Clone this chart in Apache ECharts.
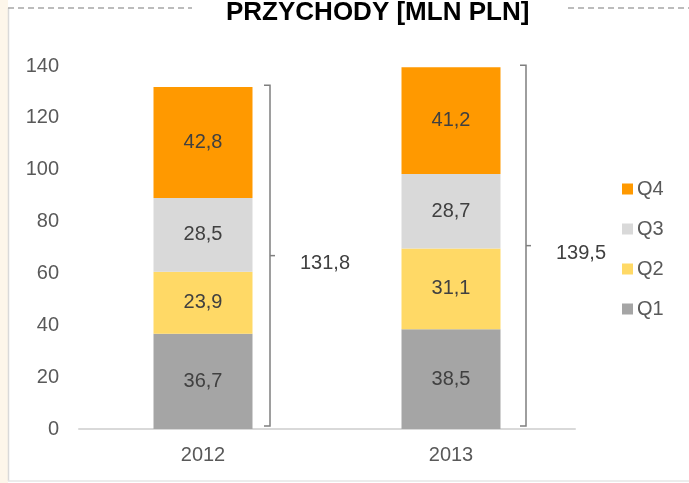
<!DOCTYPE html>
<html>
<head>
<meta charset="utf-8">
<script src="https://cdn.jsdelivr.net/npm/echarts@6/dist/echarts.min.js"></script>
<style>
    html, body { margin: 0; padding: 0; background: #fff; }
    #chart { width: 689px; height: 483px; }
</style>
</head>
<body>
<div id="chart"></div>
<script>
// dane z wykresu
const years = ['2012', '2013'];
const q1 = [36.7, 38.5];
const q2 = [23.9, 31.1];
const q3 = [28.5, 28.7];
const q4 = [42.8, 41.2];
const totals = [131.8, 139.5];
const yTicks = [0, 20, 40, 60, 80, 100, 120, 140];

const colors = {
    Q1: '#a5a5a5',
    Q2: '#ffd966',
    Q3: '#d9d9d9',
    Q4: '#ff9900'
};

const FONT = 'Liberation Sans';
const fmt = v => String(v).replace('.', ',');

const chart = echarts.init(document.getElementById('chart'));

function barSeries(name, data) {
    return {
        name: name,
        type: 'bar',
        stack: 'total',
        barWidth: 99,
        data: data,
        itemStyle: { color: colors[name] },
        label: {
            show: true,
            position: 'inside',
            color: '#404040',
            fontSize: 20,
            fontFamily: FONT,
            formatter: p => fmt(p.value)
        }
    };
}

// klamry z sumą obok słupków
const braceOffset = [67, 75];
function renderBrace(params, api) {
    const idx = api.value(0);
    const top = api.coord([idx, api.value(1)]);
    const bottom = api.coord([idx, 0]);
    const x = top[0] + braceOffset[idx];
    const y1 = top[1] - 2;
    const y2 = bottom[1] - 3;
    const mid = (y1 + y2) / 2;
    return {
        type: 'group',
        children: [
            {
                type: 'polyline',
                shape: { points: [[x - 6, y1], [x, y1], [x, y2], [x - 6, y2]] },
                style: { stroke: '#7f7f7f', lineWidth: 1.5, fill: null }
            },
            {
                type: 'line',
                shape: { x1: x, y1: mid, x2: x + 5, y2: mid },
                style: { stroke: '#7f7f7f', lineWidth: 1.5 }
            },
            {
                type: 'text',
                x: x + 30,
                y: mid + 8,
                style: {
                    text: fmt(api.value(1)),
                    fill: '#404040',
                    fontSize: 20,
                    fontFamily: FONT,
                    verticalAlign: 'middle'
                }
            }
        ]
    };
}

chart.setOption({
    animation: false,
    textStyle: { fontFamily: FONT },
    title: {
        text: 'PRZYCHODY [MLN PLN]',
        left: 226,
        top: 0,
        padding: 0,
        textStyle: {
            fontFamily: FONT,
            fontWeight: 'bold',
            fontSize: 26,
            color: '#000'
        }
    },
    legend: {
        orient: 'vertical',
        left: 617,
        top: 174,
        itemWidth: 11,
        itemHeight: 11,
        itemGap: 20,
        icon: 'rect',
        data: ['Q4', 'Q3', 'Q2', 'Q1'],
        textStyle: { color: '#595959', fontSize: 20, padding: [0, 0, 0, -1] }
    },
    grid: { left: 79, right: 114, top: 66, bottom: 54 },
    xAxis: {
        type: 'category',
        data: years,
        axisLine: { lineStyle: { color: '#d9d9d9', width: 2 } },
        axisTick: { show: false },
        axisLabel: { color: '#595959', fontSize: 20, margin: 16 }
    },
    yAxis: {
        type: 'value',
        min: yTicks[0],
        max: yTicks[yTicks.length - 1],
        interval: 20,
        axisLine: { show: false },
        axisTick: { show: false },
        splitLine: { show: false },
        axisLabel: { color: '#595959', fontSize: 20, margin: 20 }
    },
    series: [
        barSeries('Q1', q1),
        barSeries('Q2', q2),
        barSeries('Q3', q3),
        barSeries('Q4', q4),
        {
            type: 'custom',
            renderItem: renderBrace,
            data: totals.map((t, i) => [i, t]),
            z: 5
        }
    ],
    graphic: [
        // obramowanie i tło po lewej
        { type: 'rect', left: 0, top: 0, shape: { width: 8, height: 483 }, style: { fill: '#fdf6ea' }, silent: true },
        { type: 'line', shape: { x1: 8.5, y1: 8, x2: 8.5, y2: 481 }, style: { stroke: '#d9d9d9', lineWidth: 1.5 }, silent: true },
        { type: 'line', shape: { x1: 8, y1: 481, x2: 689, y2: 481 }, style: { stroke: '#e6e6e6', lineWidth: 1.5 }, silent: true },
        { type: 'line', shape: { x1: 8, y1: 8, x2: 192, y2: 8 }, style: { stroke: '#a6a6a6', lineWidth: 1.5, lineDash: [6, 4] }, silent: true },
        { type: 'line', shape: { x1: 568, y1: 8, x2: 689, y2: 8 }, style: { stroke: '#a6a6a6', lineWidth: 1.5, lineDash: [6, 4] }, silent: true }
    ]
});
</script>
</body>
</html>
